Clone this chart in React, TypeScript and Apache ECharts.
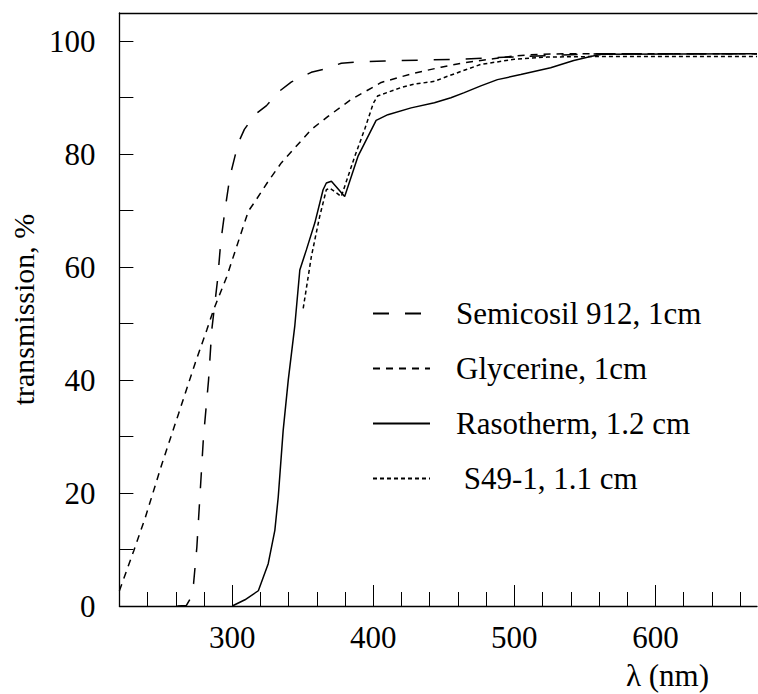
import React, { useEffect, useRef } from "react";
import * as echarts from "echarts";

// Semicosil 912, 1cm (long dashes)
const semicosilX = [261, 267.5, 270, 272.6, 274.9, 277.2, 279.6, 283.2, 285.5, 289.7, 291.8, 294.9, 298.4, 304.3, 308.6, 316.1, 324.3, 332.6, 342, 356, 364.4, 377.3, 386.5, 408, 460, 506.6, 540, 561, 672];
const semicosilY = [0, 0.1, 1.2, 4, 10.4, 19.9, 29.9, 40, 48.9, 58, 64.3, 70.2, 76.1, 82, 84.4, 87, 88.6, 91, 92.8, 94.5, 95, 96.1, 96.3, 96.5, 96.8, 97.3, 97.6, 97.8, 97.8];

// Glycerine, 1cm (medium dashes)
const glycerineX = [220, 230.2, 238.4, 250.2, 262, 273.7, 282, 286.7, 296.1, 303.2, 311.4, 316.1, 325.5, 334.9, 344.3, 356.1, 367.9, 384.4, 405.6, 428, 448, 464.5, 485, 500, 518.5, 540, 672];
const glycerineY = [2.7, 9.8, 15.7, 25.2, 34.1, 43, 48.9, 52.4, 58.3, 63.7, 69.9, 71.6, 75.2, 78.5, 81.1, 84.4, 86.7, 89.7, 92.7, 94.3, 95.4, 96.2, 96.9, 97.4, 97.7, 97.8, 97.8];

// Rasotherm, 1.2 cm (solid)
const rasothermX = [300, 309, 318.5, 325.5, 330.2, 332.6, 336.1, 339.7, 344.3, 347.9, 352.6, 358.5, 364.4, 366.7, 370.3, 379.7, 389.1, 402, 410.3, 426.8, 443.3, 455, 464.5, 476.2, 488, 504.5, 525.7, 542.1, 554, 562, 672];
const rasothermY = [0, 1.1, 2.7, 7.5, 13.4, 19.3, 31.1, 40, 49.5, 59.5, 63.1, 67.8, 73.7, 74.9, 75.2, 72.5, 79.6, 86, 87, 88.2, 89.1, 90, 90.9, 92.1, 93.2, 94.1, 95.3, 96.6, 97.3, 97.7, 97.8];

// S49-1, 1.1 cm (fine dashes)
const s49X = [350.3, 356.1, 362, 366.7, 369, 372.6, 377.3, 386.7, 394, 400, 403, 419.7, 429.1, 443.3, 452.7, 466, 476.2, 499.8, 523.4, 558.7, 672];
const s49Y = [52.7, 61.9, 69, 73.7, 74, 73.4, 72.5, 79.5, 84.5, 89, 90.3, 91.8, 92.4, 92.9, 93.8, 95, 95.9, 96.8, 97.2, 97.3, 97.3];

const seriesNames = ["Semicosil 912, 1cm", "Glycerine, 1cm", "Rasotherm, 1.2 cm", " S49-1, 1.1 cm"];

const xMajorTicks = [300, 400, 500, 600];
const xMinorTicks = [240, 260, 280, 320, 340, 360, 380, 420, 440, 460, 480, 520, 540, 560, 580, 620, 640, 660];
const yTicks = [0, 10, 20, 30, 40, 50, 60, 70, 80, 90, 100];
const yLabels = [0, 20, 40, 60, 80, 100];

const FONT = "Liberation Serif";

const zip = (xs: number[], ys: number[]) => xs.map((x, i) => [x, ys[i]]);

export default function App() {
  const ref = useRef<HTMLDivElement>(null);
  useEffect(() => {
    if (!ref.current) return;
    const chart = echarts.init(ref.current, null, { renderer: "svg" });
    const mkSeries = (name: string, data: number[][], type: any) => ({
      name,
      type: "line",
      data,
      symbol: "none",
      smooth: false,
      clip: true,
      lineStyle: { color: "#000", width: 1.5, type },
      itemStyle: { color: "#000" },
    });
    chart.setOption({
      animation: false,
      backgroundColor: "#fff",
      grid: { left: 117, top: 13, width: 640, height: 593, containLabel: false },
      xAxis: [
        {
          type: "value",
          min: 220,
          max: 672,
          position: "bottom",
          axisLine: { show: true, lineStyle: { color: "#000", width: 1.3 } },
          axisTick: { show: true, inside: true, length: 21, customValues: xMajorTicks, lineStyle: { color: "#000", width: 1 } },
          axisLabel: { show: true, customValues: xMajorTicks, fontSize: 31, fontFamily: FONT, color: "#000", margin: 16 },
          splitLine: { show: false },
        },
        {
          type: "value",
          min: 220,
          max: 672,
          position: "bottom",
          axisLine: { show: false },
          axisTick: { show: true, inside: true, length: 14, customValues: xMinorTicks, lineStyle: { color: "#000", width: 1 } },
          axisLabel: { show: false },
          splitLine: { show: false },
        },
        {
          type: "value",
          min: 220,
          max: 672,
          position: "top",
          axisLine: { show: true, lineStyle: { color: "#000", width: 1.3 } },
          axisTick: { show: false },
          axisLabel: { show: false },
          splitLine: { show: false },
        },
      ],
      yAxis: [
        {
          type: "value",
          min: 0,
          max: 105,
          position: "left",
          name: "transmission, %",
          nameLocation: "middle",
          nameGap: 78,
          nameTextStyle: { fontSize: 30, fontFamily: FONT, color: "#000" },
          axisLine: { show: true, lineStyle: { color: "#000", width: 1.3 } },
          axisTick: { show: true, inside: true, length: 14, customValues: yTicks, lineStyle: { color: "#000", width: 1 } },
          axisLabel: { show: true, customValues: yLabels, fontSize: 31, fontFamily: FONT, color: "#000", margin: 24 },
          splitLine: { show: false },
        },
      ],
      legend: {
        show: true,
        orient: "vertical",
        left: 372,
        top: 298,
        padding: 0,
        itemWidth: 57,
        itemHeight: 14,
        itemGap: 24,
        selectedMode: false,
        itemStyle: { opacity: 0 },
        textStyle: { fontSize: 31, fontFamily: FONT, color: "#000", padding: [0, 0, 0, 21] },
        data: seriesNames,
      },
      graphic: [
        {
          type: "text",
          left: 626,
          top: 660,
          style: { text: "λ (nm)", font: "31px Liberation Serif", fill: "#000" },
        },
      ],
      series: [
        mkSeries(seriesNames[0], zip(semicosilX, semicosilY), [16, 16]),
        mkSeries(seriesNames[1], zip(glycerineX, glycerineY), [7, 6]),
        mkSeries(seriesNames[2], zip(rasothermX, rasothermY), "solid"),
        mkSeries(seriesNames[3], zip(s49X, s49Y), [4, 3]),
      ],
    });
    return () => chart.dispose();
  }, []);
  return <div ref={ref} style={{ position: "absolute", left: 0, top: 0, width: 758, height: 694 }} />;
}
